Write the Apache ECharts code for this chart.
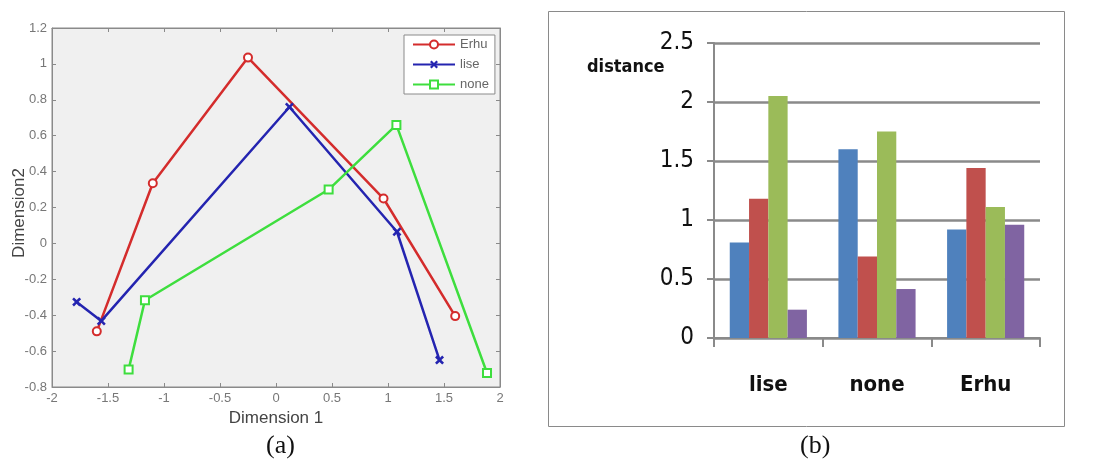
<!DOCTYPE html>
<html>
<head>
<meta charset="utf-8">
<script src="https://cdn.jsdelivr.net/npm/echarts@6/dist/echarts.min.js"></script>
<style>
  html, body { margin: 0; padding: 0; background: #fff; }
  #chart { width: 1114px; height: 469px; }
</style>
</head>
<body>
<div id="chart"></div>
<script>
// (a) MDS map
const erhuX = [-1.6, -1.1, -0.25, 0.96, 1.6];
const erhuY = [-0.49, 0.335, 1.035, 0.25, -0.405];
const ilseX = [-1.78, -1.56, 0.12, 1.08, 1.46];
const ilseY = [-0.326, -0.432, 0.76, 0.065, -0.65];
const noneX = [-1.316, -1.17, 0.47, 1.075, 1.884];
const noneY = [-0.703, -0.317, 0.3, 0.66, -0.722];

// (b) distance bars
const categories = ["lise", "none", "Erhu"];
const barBlue = [0.81, 1.6, 0.92];
const barRed = [1.18, 0.69, 1.44];
const barGreen = [2.05, 1.75, 1.11];
const barPurple = [0.24, 0.415, 0.96];

const narrow = "'Liberation Sans Narrow', 'DejaVu Sans Condensed', sans-serif";
const crossPath = "path://M0,2L2,0L5,3L8,0L10,2L7,5L10,8L8,10L5,7L2,10L0,8L3,5Z";

function pairs(xs, ys) {
  return xs.map((x, i) => [x, ys[i]]);
}

let myChart = echarts.init(document.getElementById("chart"), null, { renderer: "canvas" });

let thinAxis = {
  onZero: false,
  lineStyle: { color: "#8a8a8a", width: 1 }
};
let inTick = { inside: true, length: 4, lineStyle: { color: "#8a8a8a" } };

myChart.setOption({
  animation: false,
  textStyle: { fontFamily: "'Liberation Sans', Arial, sans-serif" },
  grid: [
    {
      left: 52, top: 28, width: 448, height: 359,
      show: true, backgroundColor: "#f0f0f0", borderColor: "#8a8a8a", borderWidth: 1
    },
    { left: 714, top: 43, width: 326, height: 295 }
  ],
  legend: {
    data: ["Erhu", "lise", "none"],
    orient: "vertical",
    left: 404,
    top: 35,
    padding: [3, 6, 3, 8],
    itemWidth: 42,
    itemHeight: 10,
    itemGap: 7,
    backgroundColor: "#ffffff",
    borderColor: "#8a8a8a",
    borderWidth: 1,
    borderRadius: 0,
    textStyle: { color: "#666", fontSize: 13 }
  },
  xAxis: [
    {
      type: "value", gridIndex: 0, min: -2, max: 2, interval: 0.5,
      name: "Dimension 1", nameLocation: "middle", nameGap: 14,
      nameTextStyle: { fontSize: 17, color: "#444" },
      axisLine: thinAxis,
      axisTick: inTick,
      axisLabel: { color: "#777", fontSize: 13, margin: 5 },
      splitLine: { show: false }
    },
    {
      type: "value", gridIndex: 0, position: "top", min: -2, max: 2, interval: 0.5,
      axisLine: thinAxis,
      axisTick: inTick,
      axisLabel: { show: false },
      splitLine: { show: false }
    },
    {
      type: "category", gridIndex: 1, data: categories,
      axisLine: { lineStyle: { color: "#8a8a8a", width: 2 } },
      axisTick: { show: true, alignWithLabel: false, length: 9, lineStyle: { color: "#8a8a8a", width: 2 } },
      axisLabel: { fontFamily: narrow, fontWeight: "bold", fontSize: 22, color: "#111", margin: 36 }
    }
  ],
  yAxis: [
    {
      type: "value", gridIndex: 0, min: -0.8, max: 1.2, interval: 0.2,
      axisLine: thinAxis,
      axisTick: inTick,
      axisLabel: { color: "#777", fontSize: 13, margin: 5 },
      splitLine: { show: false }
    },
    {
      type: "value", gridIndex: 0, position: "right", min: -0.8, max: 1.2, interval: 0.2,
      axisLine: thinAxis,
      axisTick: inTick,
      axisLabel: { show: false },
      splitLine: { show: false }
    },
    {
      type: "value", gridIndex: 1, min: 0, max: 2.5, interval: 0.5,
      axisLine: { show: true, lineStyle: { color: "#8a8a8a", width: 2 } },
      axisTick: { show: true, length: 7, lineStyle: { color: "#8a8a8a", width: 2 } },
      axisLabel: { fontFamily: narrow, fontSize: 24, color: "#111", margin: 20 },
      splitLine: { show: true, lineStyle: { color: "#8a8a8a", width: 2.5 } }
    }
  ],
  series: [
    {
      name: "Erhu", type: "line", xAxisIndex: 0, yAxisIndex: 0,
      data: pairs(erhuX, erhuY),
      color: "#d42c2c",
      lineStyle: { width: 2.5 },
      symbol: "emptyCircle", symbolSize: 8,
      itemStyle: { borderWidth: 2 }
    },
    {
      name: "lise", type: "line", xAxisIndex: 0, yAxisIndex: 0,
      data: pairs(ilseX, ilseY),
      color: "#2424b0",
      lineStyle: { width: 2.5 },
      symbol: crossPath, symbolSize: 9
    },
    {
      name: "none", type: "line", xAxisIndex: 0, yAxisIndex: 0,
      data: pairs(noneX, noneY),
      color: "#3ede3e",
      lineStyle: { width: 2.5 },
      symbol: "emptyRect", symbolSize: 8,
      itemStyle: { borderWidth: 2 }
    },
    {
      type: "bar", xAxisIndex: 2, yAxisIndex: 2, data: barBlue,
      color: "#4f81bd", barGap: "0%", barCategoryGap: "29%"
    },
    { type: "bar", xAxisIndex: 2, yAxisIndex: 2, data: barRed, color: "#c0504d" },
    { type: "bar", xAxisIndex: 2, yAxisIndex: 2, data: barGreen, color: "#9bbb59" },
    { type: "bar", xAxisIndex: 2, yAxisIndex: 2, data: barPurple, color: "#8064a2" }
  ],
  graphic: [
    {
      type: "text", x: 19, y: 213, rotation: Math.PI / 2,
      style: {
        text: "Dimension2", font: "17px 'Liberation Sans', Arial, sans-serif",
        fill: "#444", align: "center", verticalAlign: "middle"
      }
    },
    {
      type: "rect", left: 546, top: 9,
      shape: { width: 516, height: 415 },
      style: { fill: "none", stroke: "#8a8a8a", lineWidth: 1 }
    },
    {
      type: "text", left: 587, top: 58,
      style: { text: "distance", font: "bold 18px " + narrow, fill: "#111" }
    },
    {
      type: "text", left: 266, top: 433,
      style: { text: "(a)", font: "26px 'Liberation Serif', 'Times New Roman', serif", fill: "#111" }
    },
    {
      type: "text", left: 800, top: 433,
      style: { text: "(b)", font: "26px 'Liberation Serif', 'Times New Roman', serif", fill: "#111" }
    }
  ]
});
</script>
</body>
</html>
